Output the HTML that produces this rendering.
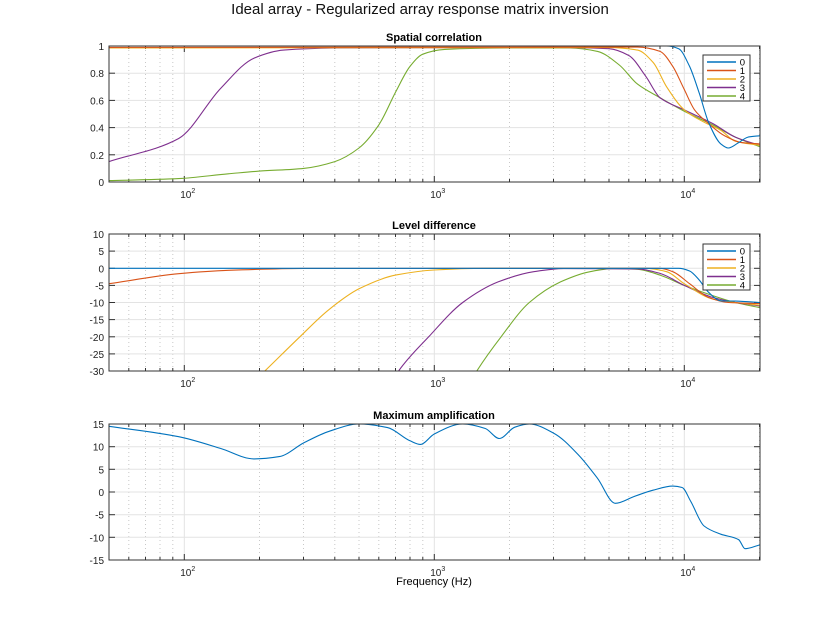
<!DOCTYPE html>
<html><head><meta charset="utf-8"><style>
body{margin:0;background:#fff;}
svg text{font-family:"Liberation Sans",sans-serif;}
</style></head><body>
<svg id="s" width="840" height="630" xmlns="http://www.w3.org/2000/svg"></svg>
<script>
const S=document.getElementById('s');let h='';
const X0=109,X1=760;
const fx=f=>X0+250*(Math.log10(f)-1.69897);
const C=['#0072bd','#d95319','#edb120','#7e2f8e','#77ac30'];
function path(p){ // monotone cubic (Fritsch-Carlson)
 const n=p.length,dx=[],m=[],t=[];
 for(let i=0;i<n-1;i++){dx[i]=p[i+1][0]-p[i][0];m[i]=(p[i+1][1]-p[i][1])/dx[i];}
 t[0]=m[0];t[n-1]=m[n-2];
 for(let i=1;i<n-1;i++){if(m[i-1]*m[i]<=0)t[i]=0;else{const w1=2*dx[i]+dx[i-1],w2=dx[i]+2*dx[i-1];t[i]=(w1+w2)/(w1/m[i-1]+w2/m[i]);}}
 let d='M'+p[0][0].toFixed(1)+','+p[0][1].toFixed(1);
 for(let i=0;i<n-1;i++){const a=dx[i]/3;
  d+=`C${(p[i][0]+a).toFixed(1)},${(p[i][1]+t[i]*a).toFixed(1)} ${(p[i+1][0]-a).toFixed(1)},${(p[i+1][1]-t[i+1]*a).toFixed(1)} ${p[i+1][0].toFixed(1)},${p[i+1][1].toFixed(1)}`;}
 return d;}
function axes(top,bot,ymin,ymax,step,title,fmt){
 const fy=v=>bot-(v-ymin)/(ymax-ymin)*(bot-top);
 h+=`<rect x="${X0}" y="${top}" width="${X1-X0}" height="${bot-top}" fill="#fff"/>`;
 for(let d=1;d<=4;d++)for(let m=1;m<10;m++){const f=m*Math.pow(10,d);if(f<50||f>20000)continue;const x=fx(f).toFixed(1);
  if(m==1)h+=`<line x1="${x}" y1="${top}" x2="${x}" y2="${bot}" stroke="#e3e3e3"/>`;
  else h+=`<line x1="${x}" y1="${top}" x2="${x}" y2="${bot}" stroke="#c8c8c8" stroke-dasharray="1,3"/>`;
  const L=m==1?6:3;
  h+=`<line x1="${x}" y1="${bot}" x2="${x}" y2="${bot-L}" stroke="#333"/><line x1="${x}" y1="${top}" x2="${x}" y2="${top+L}" stroke="#333"/>`;}
 for(let v=ymin;v<=ymax+1e-9;v+=step){const y=fy(v).toFixed(1);
  h+=`<line x1="${X0}" y1="${y}" x2="${X1}" y2="${y}" stroke="#e3e3e3"/>`;
  h+=`<line x1="${X0}" y1="${y}" x2="${X0+6}" y2="${y}" stroke="#333"/><line x1="${X1}" y1="${y}" x2="${X1-6}" y2="${y}" stroke="#333"/>`;
  h+=`<text x="104" y="${(+y+4)}" font-size="10" text-anchor="end" fill="#222">${fmt(v)}</text>`;}
 [[100,'2'],[1000,'3'],[10000,'4']].forEach(([f,e])=>{h+=`<text x="${fx(f)-4}" y="${bot+16}" font-size="10" fill="#222">10<tspan font-size="7" dy="-5">${e}</tspan></text>`;});
 h+=`<text x="434" y="${top-5}" font-size="11" font-weight="bold" text-anchor="middle">${title}</text>`;
 return fy;}
function series(fy,data,col,clipId){const pts=data.map(([f,v])=>[fx(f),fy(v)]);h+=`<path d="${path(pts)}" fill="none" stroke="${col}" stroke-width="1.1" clip-path="url(#${clipId})"/>`;}
function frame(top,bot){h+=`<rect x="${X0}" y="${top}" width="${X1-X0}" height="${bot-top}" fill="none" stroke="#333"/>`;}
function legend(x,y){h+=`<rect x="${x}" y="${y}" width="47" height="46" fill="#fff" stroke="#333"/>`;
 for(let i=0;i<5;i++){const yy=y+7+i*8.5;h+=`<line x1="${x+4}" y1="${yy}" x2="${x+33}" y2="${yy}" stroke="${C[i]}" stroke-width="1.5"/><text x="${x+42}" y="${yy+3.5}" font-size="9.5" text-anchor="end">${i}</text>`;}}
h+=`<defs><clipPath id="c1"><rect x="${X0}" y="44" width="${X1-X0}" height="140"/></clipPath><clipPath id="c2"><rect x="${X0}" y="234" width="${X1-X0}" height="137"/></clipPath><clipPath id="c3"><rect x="${X0}" y="424" width="${X1-X0}" height="136"/></clipPath></defs>`;
h+=`<text x="420" y="14" font-size="15" text-anchor="middle" fill="#111">Ideal array - Regularized array response matrix inversion</text>`;
// top
let fy=axes(46,182,0,1,0.2,'Spatial correlation',v=>{v=Math.round(v*10)/10;return v==0||v==1?String(v):v.toFixed(1)});
series(fy,[[50,0.01],[95,0.025],[150,0.06],[200,0.08],[300,0.1],[400,0.15],[500,0.25],[600,0.42],[700,0.66],[800,0.85],[900,0.94],[1100,0.975],[2000,0.985],[3500,0.985],[4500,0.96],[5500,0.86],[6500,0.72],[8000,0.62],[10000,0.52],[13000,0.42],[16000,0.33],[20000,0.26]],C[4],'c1');
series(fy,[[50,0.15],[95,0.32],[140,0.69],[190,0.91],[250,0.97],[400,0.985],[3000,0.99],[5000,0.98],[6000,0.93],[7000,0.78],[8000,0.62],[10000,0.53],[13000,0.43],[16000,0.33],[20000,0.27]],C[3],'c1');
series(fy,[[50,0.985],[5000,0.988],[6500,0.97],[7500,0.88],[8500,0.7],[10000,0.53],[12000,0.44],[14000,0.38],[16000,0.3],[20000,0.27]],C[2],'c1');
series(fy,[[50,0.99],[6500,0.992],[8000,0.96],[9000,0.85],[10000,0.68],[11000,0.53],[12500,0.43],[14500,0.34],[17000,0.29],[20000,0.28]],C[1],'c1');
series(fy,[[50,1.0],[8500,1.0],[9500,0.98],[10500,0.85],[11500,0.65],[12500,0.44],[14000,0.28],[15000,0.25],[16500,0.29],[18000,0.33],[20000,0.34]],C[0],'c1');
frame(46,182);legend(703,55);
// middle
fy=axes(234,371,-30,10,5,'Level difference',v=>String(v));
series(fy,[[1400,-33],[1480,-30],[1850,-20],[2400,-10],[3200,-4],[4200,-1],[5200,-0.1],[6500,-0.3],[8000,-2],[10000,-5],[13000,-8],[16000,-10],[20000,-11.5]],C[4],'c2');
series(fy,[[680,-33],[720,-30],[950,-20],[1300,-10],[1800,-4],[2500,-1],[3300,-0.1],[6500,-0.2],[8000,-1.5],[10000,-5],[13000,-8.5],[16000,-10],[20000,-11]],C[3],'c2');
series(fy,[[190,-33],[210,-30],[290,-20],[380,-12],[500,-6],[700,-2],[1000,-0.5],[1600,0],[7000,0],[8500,-1],[10000,-4.5],[13000,-9],[16000,-10],[20000,-10.8]],C[2],'c2');
series(fy,[[50,-4.5],[95,-1.6],[150,-0.6],[300,-0.05],[8000,0],[9000,-1],[10500,-4.5],[12500,-8.5],[15000,-10],[20000,-10.3]],C[1],'c2');
series(fy,[[50,0],[9500,0],[10500,-0.8],[11500,-3.5],[12500,-7],[14000,-9.5],[16000,-9.6],[20000,-10]],C[0],'c2');
frame(234,371);legend(703,244);
// bottom
fy=axes(424,560,-15,15,5,'Maximum amplification',v=>String(v));
series(fy,[[50,14.5],[95,12.2],[140,9.6],[190,7.3],[240,7.8],[300,10.8],[380,13.4],[500,15],[650,14.2],[800,11.3],[880,10.5],[1000,12.8],[1300,15],[1600,14],[1820,11.8],[2100,14.3],[2400,15],[3000,13],[3800,8],[4500,3],[5300,-2.5],[6300,-1],[7500,0.4],[9000,1.3],[9800,1],[10600,-2],[12000,-7.5],[14000,-9.3],[16500,-10.5],[17500,-12.5],[20000,-11.7]],C[0],'c3');
frame(424,560);
h+=`<text x="434" y="585" font-size="11" text-anchor="middle">Frequency (Hz)</text>`;
S.innerHTML=h;
</script>
</body></html>
